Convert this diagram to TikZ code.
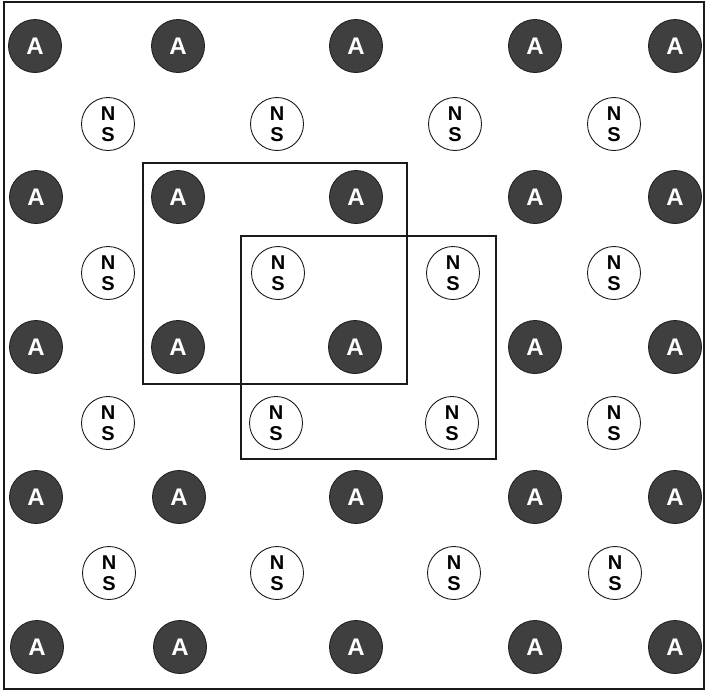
\documentclass[tikz,border=0pt]{standalone}
\usepackage{fontspec}
\usepackage{tikz}
\usetikzlibrary{
  positioning,
  calc
}
\newfontfamily\gridfont{Liberation Sans}
\definecolor{gdDark}{HTML}{3F3F3F}
\definecolor{gdEdge}{HTML}{222222}
\definecolor{gdLine}{HTML}{1A1A1A}
\tikzset{
  gdnode/.style={
    circle, minimum size=53pt, inner sep=0pt, line width=0.9pt
  },
  anode/.style={gdnode, fill=gdDark, draw=gdEdge, text=white,
    font=\gridfont\bfseries\fontsize{24}{24}\selectfont},
  nsnode/.style={gdnode, fill=white, draw=gdLine, align=center,
    font=\gridfont\bfseries\fontsize{20}{21}\selectfont},
  frame/.style={draw=gdLine, line width=2pt},
  window/.style={draw=gdLine, line width=1.4pt}
}
\begin{document}
\begin{tikzpicture}[x=1pt, y=-1pt]
  \useasboundingbox (0,0) rectangle (706,691);
  \draw[frame] (4,2) rectangle (704,689);
  % row 1
  \node[anode] (a11) at (35,46) {A};
  \node[anode] (a12) at (178,46) {A};
  \node[anode] (a13) at (356,46) {A};
  \node[anode] (a14) at (535,46) {A};
  \node[anode] (a15) at (675,46) {A};
  \node[nsnode] (n11) at (108,124) {N\\S};
  \node[nsnode] (n12) at (277,124) {N\\S};
  \node[nsnode] (n13) at (455,124) {N\\S};
  \node[nsnode] (n14) at (614,124) {N\\S};
  % row 2
  \node[anode] (a21) at (36,197) {A};
  \node[anode] (a22) at (178,197) {A};
  \node[anode] (a23) at (356,197) {A};
  \node[anode] (a24) at (535,197) {A};
  \node[anode] (a25) at (675,197) {A};
  \node[nsnode] (n21) at (108,273) {N\\S};
  \node[nsnode] (n22) at (278,273) {N\\S};
  \node[nsnode] (n23) at (453,273) {N\\S};
  \node[nsnode] (n24) at (614,273) {N\\S};
  % row 3
  \node[anode] (a31) at (36,347) {A};
  \node[anode] (a32) at (178,347) {A};
  \node[anode] (a33) at (355,347) {A};
  \node[anode] (a34) at (535,347) {A};
  \node[anode] (a35) at (675,347) {A};
  \node[nsnode] (n31) at (108,423) {N\\S};
  \node[nsnode] (n32) at (276,423) {N\\S};
  \node[nsnode] (n33) at (452,423) {N\\S};
  \node[nsnode] (n34) at (614,423) {N\\S};
  % row 4
  \node[anode] (a41) at (36,497) {A};
  \node[anode] (a42) at (179,497) {A};
  \node[anode] (a43) at (356,497) {A};
  \node[anode] (a44) at (535,497) {A};
  \node[anode] (a45) at (675,497) {A};
  \node[nsnode] (n41) at (109,573) {N\\S};
  \node[nsnode] (n42) at (277,573) {N\\S};
  \node[nsnode] (n43) at (454,573) {N\\S};
  \node[nsnode] (n44) at (615,573) {N\\S};
  % row 5
  \node[anode] (a51) at (37,647) {A};
  \node[anode] (a52) at (180,647) {A};
  \node[anode] (a53) at (356,647) {A};
  \node[anode] (a54) at (535,647) {A};
  \node[anode] (a55) at (675,647) {A};
  % overlapping windows
  \draw[window] (143,163) rectangle (407,384);
  \draw[window] (241,236) rectangle (496,459);
\end{tikzpicture}
\end{document}
